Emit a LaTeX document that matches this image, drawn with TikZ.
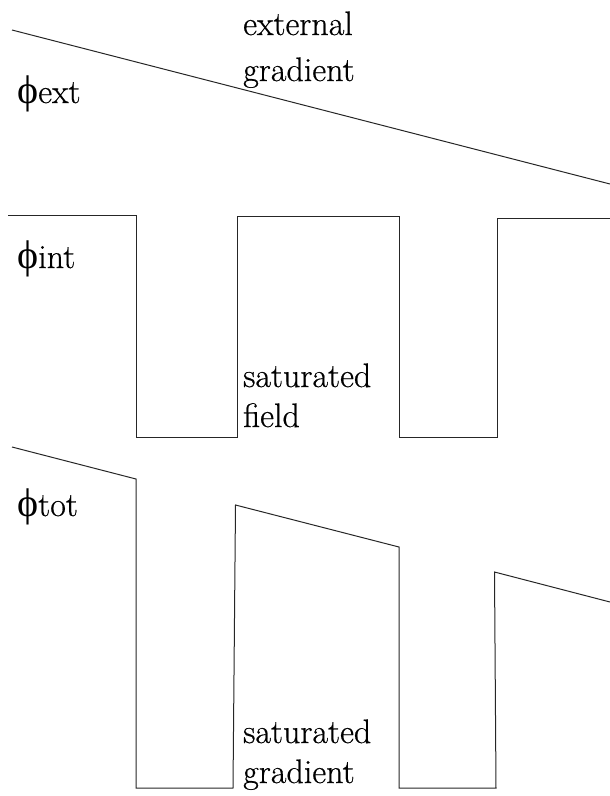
\documentclass[tikz,border=0pt]{standalone}
\usepackage{fontspec}
\setmainfont{Latin Modern Roman}[FakeBold=0.5,UprightFeatures={FakeBold=0.5}]
\newfontfamily\tnr{Liberation Serif}
\newcommand{\myphi}{{\fontsize{40}{40}\selectfont\tnr\char"03D5}}
\begin{document}
\begin{tikzpicture}[x=1pt,y=-1pt,
  curve/.style={line width=1pt,black!85},
  lbl/.style={anchor=base west,inner sep=0pt,font=\rmfamily\fontsize{34}{40}\selectfont}]
\useasboundingbox (0,0) rectangle (610,796);
% external gradient
\draw[curve] (12,30) -- (610,184);
% internal field
\draw[curve] (8,215) -- (136,215) -- (136,437) -- (237,437) -- (237,216)
  -- (399,216) -- (399,437) -- (497,437) -- (497,218) -- (610,218);
% total field
\draw[curve] (12,447) -- (136,479) -- (136,788) -- (233,788) -- (235.5,505)
  -- (399,547) -- (399,788) -- (496,788) -- (494.5,572) -- (610,602);
% labels
\node[lbl] (pext) at (17,103) {\myphi ext};
\node[lbl] (pint) at (17,268) {\myphi int};
\node[lbl] (ptot) at (17,516) {\myphi tot};
\node[lbl] (ext1) at (243,35) {external};
\node[lbl] (ext2) at (243,81) {gradient};
\node[lbl] (sat1) at (243,387) {saturated};
\node[lbl] (sat2) at (243,427) {field};
\node[lbl] (sg1) at (243,743) {saturated};
\node[lbl] (sg2) at (243,783) {gradient};
\end{tikzpicture}
\end{document}
